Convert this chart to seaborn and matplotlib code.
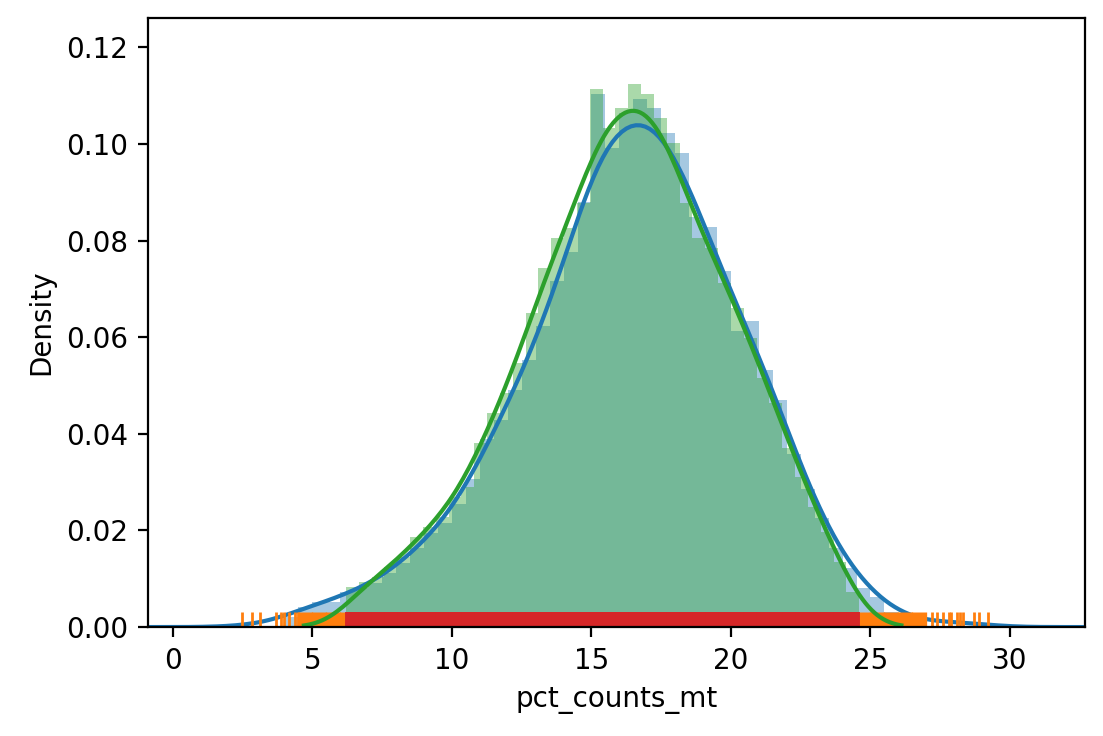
import seaborn as sns
import matplotlib.pyplot as plt
import numpy as np

# all cells: histogram bins of pct_counts_mt (width 0.5 starting at 4.0)
all_edges_start = 4.0
all_width = 0.5
all_density = [0.002, 0.004, 0.005, 0.005, 0.007, 0.008, 0.009, 0.011, 0.013, 0.016,
               0.019, 0.021, 0.025, 0.030, 0.038, 0.042, 0.048, 0.054, 0.061, 0.070,
               0.076, 0.086, 0.108, 0.097, 0.104, 0.107, 0.105, 0.100, 0.096, 0.083,
               0.081, 0.072, 0.060, 0.062, 0.052, 0.046, 0.035, 0.028, 0.022, 0.016,
               0.012, 0.008, 0.006, 0.003, 0.002, 0.001]

# filtered cells: bins between 6.2 and 24.6
kept_start = 6.2
kept_width = 0.46
kept_density = [0.008, 0.009, 0.010, 0.012, 0.014, 0.018, 0.020, 0.022, 0.026, 0.028,
                0.037, 0.043, 0.047, 0.053, 0.063, 0.072, 0.078, 0.080, 0.085, 0.108,
                0.100, 0.104, 0.109, 0.107, 0.102, 0.097, 0.085, 0.078, 0.076, 0.069,
                0.064, 0.058, 0.050, 0.045, 0.036, 0.030, 0.024, 0.019, 0.013, 0.007]

# outlying values seen on the rug
outliers = [2.46, 2.85, 3.13, 3.68, 3.89, 3.97, 4.16, 4.36, 4.49,
            27.2, 27.4, 27.6, 27.8, 27.9, 28.1, 28.2, 28.3, 28.7, 28.9, 29.2]

all_centers = all_edges_start + all_width * (np.arange(len(all_density)) + 0.5)
kept_centers = kept_start + kept_width * (np.arange(len(kept_density)) + 0.5)
all_edges = list(all_edges_start + all_width * np.arange(len(all_density) + 1))
kept_edges = list(kept_start + kept_width * np.arange(len(kept_density) + 1))

fig, ax = plt.subplots(figsize=(5.515, 3.68), dpi=200)

sns.histplot(x=list(all_centers), weights=list(all_density), bins=all_edges, stat='density',
             color='C0', alpha=0.4, edgecolor='none', ax=ax)
kde_x = list(all_centers) + outliers
kde_w = list(all_density) + [0.0004] * len(outliers)
sns.kdeplot(x=kde_x, weights=kde_w, bw_adjust=0.45, cut=2, color='C0', linewidth=1.5, ax=ax)
sns.rugplot(x=list(all_centers[(all_centers > 4.5) & (all_centers < 27)]), color='C1',
            linewidth=5.5, ax=ax)
sns.rugplot(x=outliers, color='C1', linewidth=1, ax=ax)

sns.histplot(x=list(kept_centers), weights=kept_density, bins=kept_edges, stat='density',
             color='C2', alpha=0.4, edgecolor='none', ax=ax)
sns.kdeplot(x=list(kept_centers), weights=kept_density, bw_adjust=0.45, cut=1.5,
            color='C2', linewidth=1.5, ax=ax)
sns.rugplot(x=list(kept_centers), color='C3', linewidth=5, ax=ax)

ax.set_xlim(-0.9, 32.7)
ax.set_ylim(0, 0.126)
ax.set_xlabel('pct_counts_mt')
ax.set_ylabel('Density')
fig.subplots_adjust(left=0.134, right=0.984, top=0.975, bottom=0.148)
fig.savefig('out.png')
